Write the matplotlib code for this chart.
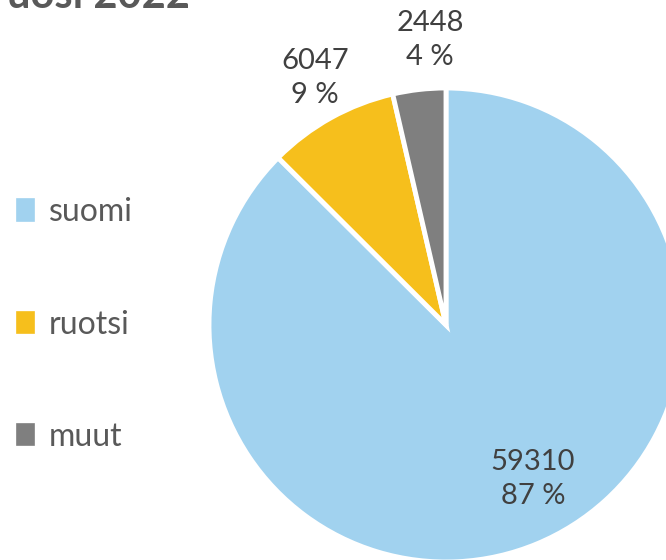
import matplotlib.pyplot as plt

# data
kielet = ['suomi', 'ruotsi', 'muut']
maarat = [59310, 6047, 2448]
osuudet = ['87 %', '9 %', '4 %']
varit = ['#A1D2EF', '#F6BF1C', '#7F7F7F']

plt.rcParams['font.family'] = ['Lato', 'DejaVu Sans']

fig = plt.figure(figsize=(6.66, 5.6), dpi=100)
ax = fig.add_axes([0, 0, 1, 1])

# pie center / radius in pixel coordinates (y up)
cx, cy, r = 446, 235, 237
wedges, _ = ax.pie(maarat, colors=varit, startangle=90, counterclock=False,
                   center=(cx, cy), radius=r, explode=[0, 0.015, 0.015],
                   wedgeprops=dict(edgecolor='white', linewidth=3.5), frame=True)
ax.set_xlim(0, 666)
ax.set_ylim(0, 560)
ax.set_aspect('equal')
ax.axis('off')

# data labels
label_pos = [(533, 81), (315, 482), (430, 520)]
for (x, y), n, p in zip(label_pos, maarat, osuudet):
    ax.text(x, y, f'{n}\n{p}', ha='center', va='center', fontsize=21,
            color='#404040', linespacing=1.4)

# title, cut off at the top
ax.text(190, 552, 'uosi 2022', ha='right', va='baseline', fontsize=30,
        fontweight='bold', color='#595959')

# legend
leg = ax.legend(wedges, kielet, loc='upper left', bbox_to_anchor=(0.025, 0.648),
                frameon=False, fontsize=23, handlelength=0.55, handleheight=0.65,
                handletextpad=0.45, labelspacing=2.58, borderaxespad=0,
                borderpad=0)
for t in leg.get_texts():
    t.set_color('#595959')
for h in leg.legend_handles:
    h.set_edgecolor(h.get_facecolor())
    h.set_linewidth(1.2)

plt.savefig('out.png', dpi=100)
